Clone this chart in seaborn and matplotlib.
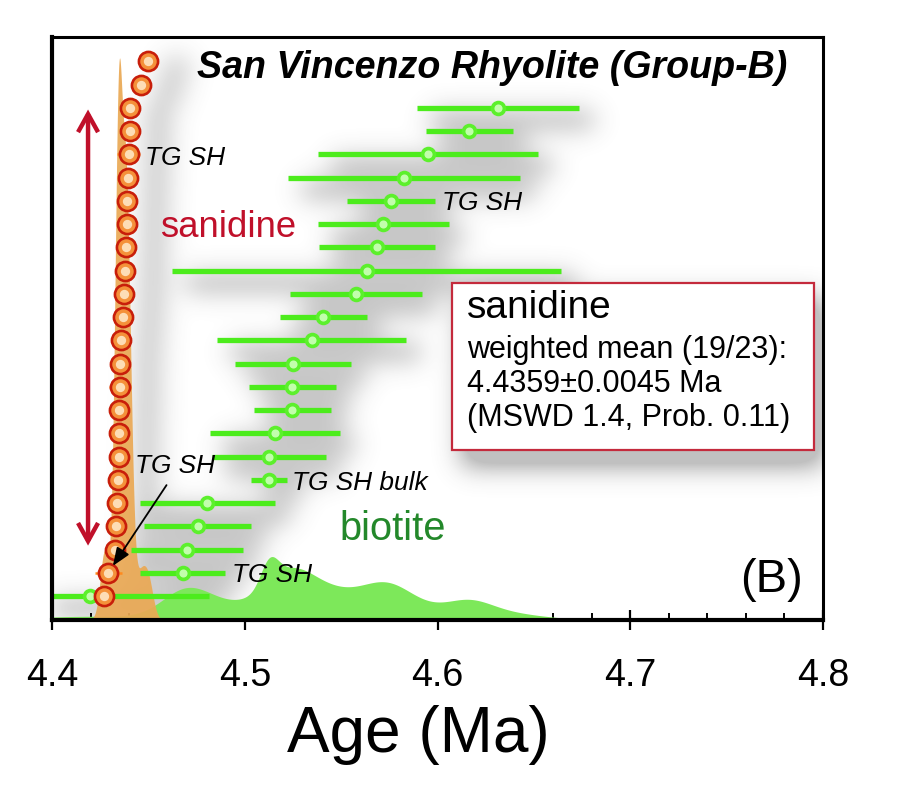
import numpy as np
import pandas as pd
import matplotlib
matplotlib.use("Agg")
import matplotlib.pyplot as plt
import matplotlib.font_manager as fm
from matplotlib.patches import FancyBboxPatch, FancyArrowPatch
from matplotlib.ticker import MultipleLocator
import seaborn as sns

# ---------------- data ----------------
san_age = [4.4270, 4.4292, 4.4327, 4.4332, 4.4336, 4.4344, 4.4346, 4.4346,
           4.4348, 4.4353, 4.4353, 4.4358, 4.4367, 4.4374, 4.4379, 4.4384,
           4.4388, 4.4391, 4.4396, 4.4398, 4.4405, 4.4405, 4.4460, 4.4500]
san_err = [0.0040, 0.0069, 0.0035, 0.0032, 0.0032, 0.0030, 0.0030, 0.0032,
           0.0033, 0.0055, 0.0032, 0.0030, 0.0032, 0.0033, 0.0033, 0.0034,
           0.0034, 0.0035, 0.0036, 0.0059, 0.0038, 0.0040, 0.0050, 0.0050]
bio_age = [4.4197, 4.4678, 4.4699, 4.4756, 4.4806, 4.5127, 4.5127, 4.5157,
           4.5247, 4.5247, 4.5252, 4.5347, 4.5408, 4.5577, 4.5633, 4.5685,
           4.5719, 4.5759, 4.5826, 4.5952, 4.6165, 4.6315]
bio_err = [0.0620, 0.0222, 0.0290, 0.0277, 0.0350, 0.0092, 0.0297, 0.0335,
           0.0201, 0.0226, 0.0300, 0.0490, 0.0226, 0.0344, 0.1010, 0.0300,
           0.0340, 0.0230, 0.0600, 0.0570, 0.0227, 0.0420]
wm_rows = (2, 21)
tick_vals = [4.4, 4.5, 4.6, 4.7, 4.8]
tick_labels = ["4.4", "4.5", "4.6", "4.7", "4.8"]
title = "San Vincenzo Rhyolite (Group-B)"
xlabel = "Age (Ma)"
box_lines = ["sanidine", "weighted mean (19/23):", "4.4359\u00b10.0045 Ma",
             "(MSWD 1.4, Prob. 0.11)"]
tg_san_rows = [19]
tg_san_arrow_row = 1
tg_bio_rows = [17, 1]
tg_bulk_row = 5

san = pd.DataFrame({"age": san_age, "err": san_err, "row": np.arange(len(san_age))})
bio = pd.DataFrame({"age": bio_age, "err": bio_err, "row": np.arange(len(bio_age))})

# ---------------- style ----------------
sns.set_theme(style="white")
names = {f.name for f in fm.fontManager.ttflist}
has_narrow = "Liberation Sans Narrow" in names
NARROW = ["Liberation Sans Narrow", "Liberation Sans", "DejaVu Sans"] if has_narrow else ["Liberation Sans", "DejaVu Sans"]
REG = ["Liberation Sans", "DejaVu Sans"]
plt.rcParams["font.family"] = REG
plt.rcParams["text.color"] = "black"
plt.rcParams["axes.labelcolor"] = "black"
plt.rcParams["xtick.color"] = "black"
k = 1.0 if has_narrow else 0.82

W, H = 900, 785
def fx(p): return p / W
def fy(p): return 1 - p / H

AX_L, AX_R, AX_T, AX_B = 52, 823, 37, 620
fig = plt.figure(figsize=(9, 7.85), dpi=100)
ax = fig.add_axes([fx(AX_L), fy(AX_B), (AX_R - AX_L) / W, (AX_B - AX_T) / H])
ax.set_xlim(4.4, 4.8)
ax.set_ylim(-1.03, 24.05)
ax.set_facecolor("white")
xl = ax.get_xlim()
yl = ax.get_ylim()
y0 = yl[0]

# ---------------- probability density curves (2-sigma bars) ----------------
grid = np.linspace(4.38, 4.82, 4000)
def pdp(ages, errs):
    a = np.asarray(ages)[:, None]
    s = np.asarray(errs)[:, None] / 2.0
    return (np.exp(-0.5 * ((grid[None, :] - a) / s) ** 2) / s).sum(axis=0)

pb = pdp(bio["age"], bio["err"])
pb = y0 + (1.70 - y0) * pb / pb.max()
ps = pdp(san["age"], san["err"])
ps = y0 + (23.15 - y0) * ps / ps.max()

ax.fill_between(grid, y0, pb, color="#7de85a", lw=0, zorder=1)
ax.fill_between(grid, y0, ps, color="#eaa955", alpha=0.93, lw=0, zorder=2)

# ---------------- soft blurred shadows (raster) ----------------
nx, ny = AX_R - AX_L, AX_B - AX_T
XX, YY = np.meshgrid(np.arange(nx) + 0.5, np.arange(ny) + 0.5)
def to_px(x, y):
    return ((x - xl[0]) / (xl[1] - xl[0]) * nx,
            (yl[1] - y) / (yl[1] - yl[0]) * ny)
mask = np.zeros((ny, nx))
for a, e, r in zip(bio["age"], bio["err"], bio["row"]):
    xa, yc = to_px(a - e, r)
    xb, _ = to_px(a + e, r)
    sel = (YY > yc + 12 - 6) & (YY < yc + 12 + 6) & (XX > xa + 14) & (XX < xb + 14)
    mask[sel] = np.maximum(mask[sel], 1.0)
for a, r in zip(san["age"], san["row"]):
    xc, yc = to_px(a, r)
    sel = (XX - xc - 28) ** 2 + (YY - yc - 8) ** 2 < 13 ** 2
    mask[sel] = np.maximum(mask[sel], 0.55)
bx0, by0, bx1, by1 = 452, 283, 814, 450
sel = ((XX > bx0 - AX_L + 10) & (XX < bx1 - AX_L + 14) &
       (YY > by0 - AX_T + 14) & (YY < by1 - AX_T + 16))
mask[sel] = 1.0

def blur(img, s):
    r = int(3 * s)
    kern = np.exp(-0.5 * (np.arange(-r, r + 1) / s) ** 2)
    kern /= kern.sum()
    img = np.apply_along_axis(lambda v: np.convolve(v, kern, mode="same"), 0, img)
    img = np.apply_along_axis(lambda v: np.convolve(v, kern, mode="same"), 1, img)
    return img
shadow = blur(mask, 13.0)
rgba = np.zeros((ny, nx, 4))
rgba[..., :3] = 0.32
rgba[..., 3] = np.clip(shadow * 0.62, 0, 0.36)
ax.imshow(rgba, extent=(xl[0], xl[1], yl[0], yl[1]), aspect="auto", origin="upper",
          interpolation="bilinear", zorder=0.5)
ax.set_xlim(xl)
ax.set_ylim(yl)

# ---------------- error bars and points ----------------
ax.hlines(bio["row"], bio["age"] - bio["err"], bio["age"] + bio["err"],
          color="#4cec1c", lw=3.8, zorder=4)
sns.scatterplot(data=bio, x="age", y="row", s=125, color="#5cf02c", linewidth=0,
                ax=ax, zorder=5, legend=False)
sns.scatterplot(data=bio, x="age", y="row", s=34, color="#c8ffb4", linewidth=0,
                alpha=0.95, ax=ax, zorder=5.5, legend=False)

ax.hlines(san["row"], san["age"] - san["err"], san["age"] + san["err"],
          color="#ff8a1e", lw=1.8, zorder=6)
sns.scatterplot(data=san, x="age", y="row", s=190, color="#f4913a",
                edgecolor="#c81e0a", linewidth=1.9, ax=ax, zorder=7, legend=False)
sns.scatterplot(data=san, x="age", y="row", s=45, color="#ffe6c4", linewidth=0,
                alpha=0.9, ax=ax, zorder=7.5, legend=False)

# ---------------- red range arrow ----------------
arr_x = 4.4187
ax.add_patch(FancyArrowPatch((arr_x, wm_rows[0] + 0.05), (arr_x, wm_rows[1] + 0.05),
                             arrowstyle="<->,head_length=0.65,head_width=0.36",
                             mutation_scale=20, color="#c0102a", lw=3.2,
                             joinstyle="miter", capstyle="butt", zorder=8))

# ---------------- labels ----------------
lab_kw = dict(fontsize=23 * k, fontstyle="italic", family=NARROW, color="black",
              textcoords="offset points", ha="left", va="baseline", zorder=9)
for r in tg_san_rows:
    ax.annotate("TG SH", xy=(san_age[r], r), xytext=(11.7, -7.6), **lab_kw)
for r in tg_bio_rows:
    ax.annotate("TG SH", xy=(bio_age[r] + bio_err[r], r), xytext=(4.5, -6.5), **lab_kw)
ax.annotate("TG SH bulk", xy=(bio_age[tg_bulk_row] + bio_err[tg_bulk_row], tg_bulk_row),
            xytext=(3.8, -7.2), **{**lab_kw, "fontsize": 23 * k})
r = tg_san_arrow_row
ax.annotate("TG SH", xy=(san_age[r], r), xytext=(19.2, 71.6),
            arrowprops=dict(arrowstyle="-|>,head_length=0.55,head_width=0.22",
                            color="black", lw=1.3, shrinkA=3, shrinkB=6,
                            relpos=(0.45, 0.0), mutation_scale=20),
            **lab_kw)

fig.text(fx(492), fy(78), title, ha="center", va="baseline", fontsize=33 * k,
         fontweight="bold", fontstyle="italic", family=NARROW, color="black")
fig.text(fx(160), fy(237), "sanidine", color="#c0102a", fontsize=32 * k,
         va="baseline", family=NARROW)
fig.text(fx(339), fy(540), "biotite", color="#23882a", fontsize=35 * k,
         va="baseline", family=NARROW)
fig.text(fx(740), fy(592), "(B)", fontsize=34, va="baseline", family=REG, color="black")

# ---------------- result box ----------------
fig.patches.append(FancyBboxPatch((fx(bx0), fy(by1)), (bx1 - bx0) / W, (by1 - by0) / H,
                                  boxstyle="square,pad=0", transform=fig.transFigure,
                                  facecolor="white", edgecolor="#c42a3c", lw=1.6,
                                  zorder=10))
fig.text(fx(467), fy(318), box_lines[0], fontsize=28, va="baseline", zorder=11, color="black")
for i, yy in enumerate([358, 392, 426]):
    fig.text(fx(467), fy(yy), box_lines[i + 1], fontsize=22, va="baseline", zorder=11,
             color="black")

# ---------------- axes ----------------
for side in ["left", "bottom"]:
    ax.spines[side].set_linewidth(3.0)
for side in ["top", "right"]:
    ax.spines[side].set_linewidth(2.2)
for sp in ax.spines.values():
    sp.set_color("black")
    sp.set_visible(True)
    sp.set_zorder(12)
ax.set_yticks([])
ax.set_xticks(tick_vals)
ax.set_xticklabels(tick_labels, fontsize=33 * k, family=NARROW, color="black")
ax.xaxis.set_minor_locator(MultipleLocator(0.02))
ax.tick_params(axis="x", which="major", bottom=True, direction="inout", length=14,
               width=1.6, colors="black", pad=20)
ax.tick_params(axis="x", which="minor", bottom=True, direction="in", length=5,
               width=1.4, colors="black")
ax.set_xlabel("")
ax.set_ylabel("")
fig.text(fx(418), fy(752), xlabel, ha="center", va="baseline", fontsize=46, family=REG,
         color="black")

fig.savefig("out.png", dpi=100)
